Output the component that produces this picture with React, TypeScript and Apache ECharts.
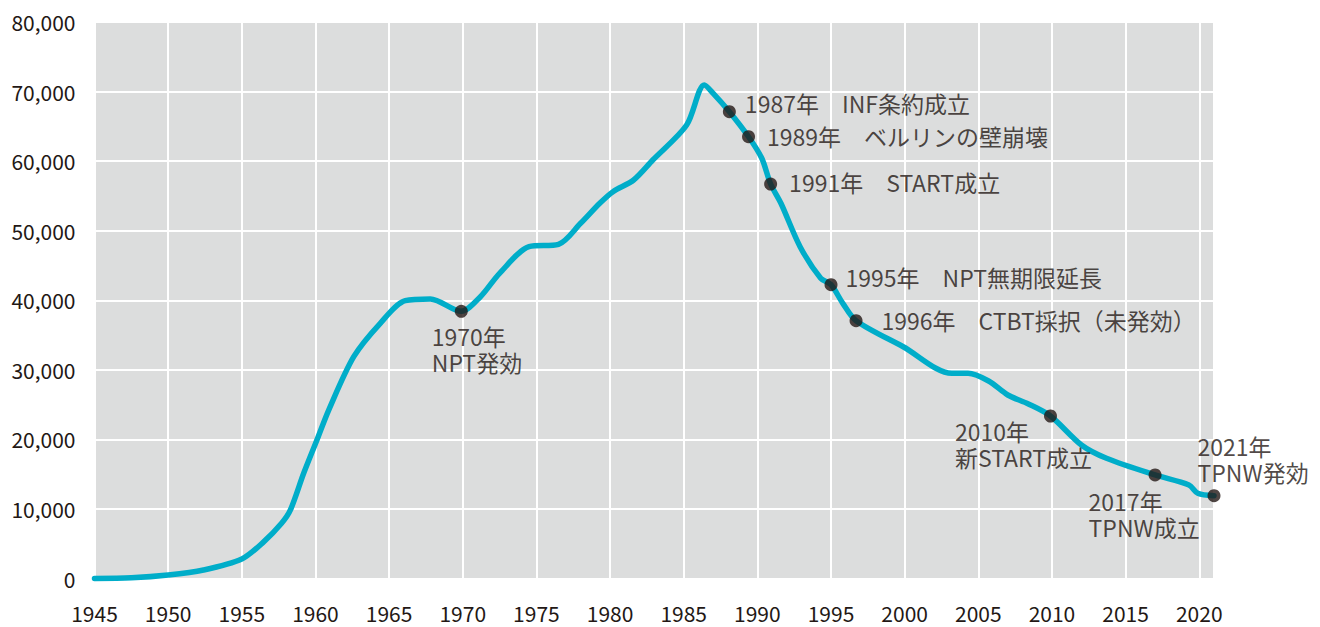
import React, { useEffect, useRef } from "react";
import * as echarts from "echarts";

// Line vertices: [year position, warheads]
const lineYears = [
  1945.0, 1947.5, 1950.0, 1952.4, 1955.0, 1956.5, 1957.7, 1958.3, 1959.2, 1960.1, 1960.9,
  1962.6, 1964.4, 1966.1, 1967.8, 1969.9, 1971.2, 1972.5, 1974.5,
  1976.5, 1978.0, 1979.3, 1980.2, 1981.6, 1982.9, 1985.2, 1986.4, 1987.0, 1988.1,
  1989.4, 1990.3, 1990.9, 1991.6, 1992.9, 1994.3, 1995.0, 1995.8, 1996.7, 1999.9,
  2003.2, 2004.3, 2005.7, 2007.0, 2008.4, 2009.9, 2012.0, 2013.7, 2017.0, 2019.3,
  2019.9, 2021.0,
];
const lineValues = [
  0, 100, 500, 1220, 2800, 5300, 7930, 9850, 15120, 19910, 24220,
  31890, 36690, 39940, 40180, 38410, 40510, 43870, 47700,
  48040, 51060, 53940, 55610, 57290, 60160, 65190, 70950, 69750, 67110,
  63510, 60410, 56710, 53940, 47700, 43160, 42240, 39560, 37060, 33320,
  29500, 29500, 28390, 26380, 25090, 23360, 19190, 17280, 14880, 13440,
  12250, 11900,
];

// Events marked with dots
const eventYears = [1969.9, 1988.1, 1989.4, 1990.9, 1995.0, 1996.7, 2009.9, 2017.0, 2021.0];
const eventValues = [38410, 67110, 63510, 56710, 42240, 37060, 23360, 14880, 11900];
const eventLabels = [
  "1970年\nNPT発効",
  "1987年　INF条約成立",
  "1989年　ベルリンの壁崩壊",
  "1991年　START成立",
  "1995年　NPT無期限延長",
  "1996年　CTBT採択（未発効）",
  "2010年\n新START成立",
  "2017年\nTPNW成立",
  "2021年\nTPNW発効",
];
// label placement (layout only)
const labelOffsets = [
  [-36, 38],
  [9, -9],
  [12, -1],
  [12, -2],
  [8, -8],
  [19, -1],
  [-102, 28],
  [-73, 39],
  [-23, -37],
];

// Axis ticks
const xMin = 1945;
const xMax = 2021;
const xStep = 5;
const yMin = 0;
const yMax = 80000;
const yStep = 10000;

const FONT = "'Noto Sans CJK JP', 'Noto Sans', sans-serif";
const TEXT = "#231815";

export default function App() {
  const ref = useRef<HTMLDivElement>(null);
  useEffect(() => {
    if (!ref.current) return;
    const chart = echarts.init(ref.current, undefined, { renderer: "svg" });
    const lineData = lineYears.map((y, i) => [y, lineValues[i]]);
    const eventData = eventYears.map((y, i) => ({
      value: [y, eventValues[i]],
      label: {
        show: true,
        formatter: eventLabels[i],
        position: "right",
        distance: 0,
        offset: labelOffsets[i],
        align: "left",
        verticalAlign: "middle",
        color: TEXT,
        fontSize: 23,
        lineHeight: 26,
        fontFamily: FONT,
      },
    }));
    chart.setOption({
      animation: false,
      backgroundColor: "#ffffff",
      grid: {
        left: 94.5,
        right: 106,
        top: 22,
        bottom: 48.5,
        show: true,
        backgroundColor: "#dcdddd",
        borderWidth: 0,
      },
      xAxis: {
        type: "value",
        min: xMin,
        max: xMax,
        interval: xStep,
        axisLine: { show: false },
        axisTick: { show: false },
        axisLabel: {
          color: TEXT,
          fontSize: 21,
          fontFamily: FONT,
          margin: 24,
          formatter: (v: number) => (v % xStep === 0 ? String(v) : ""),
        },
        splitLine: { show: true, lineStyle: { color: "#ffffff", width: 2 } },
      },
      yAxis: {
        type: "value",
        min: yMin,
        max: yMax,
        interval: yStep,
        axisLine: { show: false },
        axisTick: { show: false },
        axisLabel: {
          color: TEXT,
          fontSize: 21,
          fontFamily: FONT,
          margin: 19,
          formatter: (v: number) => v.toLocaleString("en-US"),
        },
        splitLine: { show: true, lineStyle: { color: "#ffffff", width: 2 } },
      },
      series: [
        {
          type: "line",
          data: lineData,
          smooth: 0.3,
          showSymbol: false,
          symbol: "none",
          clip: false,
          lineStyle: { color: "#00adc9", width: 5.5, cap: "round", join: "round" },
          z: 2,
        },
        {
          type: "scatter",
          data: eventData,
          symbol: "circle",
          symbolSize: 13,
          itemStyle: { color: TEXT },
          z: 3,
        },
      ],
    });
    return () => chart.dispose();
  }, []);
  return (
    <div
      ref={ref}
      style={{ position: "fixed", left: 0, top: 0, width: 1320, height: 627 }}
    />
  );
}
